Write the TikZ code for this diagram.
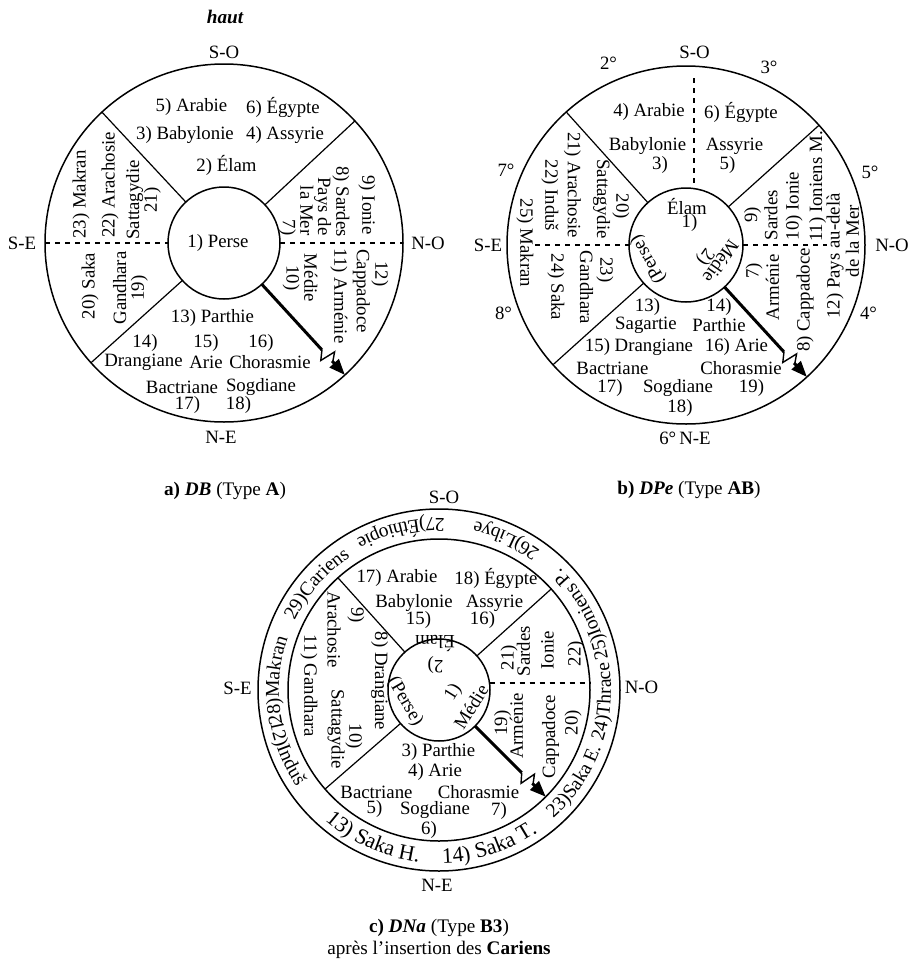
\documentclass[tikz,border=0pt]{standalone}
\usepackage{fontspec}
\setmainfont{Liberation Serif}
\usetikzlibrary{arrows.meta,decorations.text}
\newcommand{\bandfont}{\fontsize{9.8}{10}\selectfont}
\newcommand{\bigband}{\fontsize{11}{12}\selectfont}
% arrow with the lightning break: angle, inner radius, outer radius
\newcommand{\boltarrow}[3]{%
  \begin{scope}[rotate=#1]
    \draw[bolt] (#2,0) -- (#3-34,0);
    \draw[line width=0.7pt] (#3-34,0) -- (#3-27,-8) -- (#3-24,8) -- (#3-18,0);
    \draw[bolt,-{Triangle[length=8pt,width=6pt]}] (#3-19,0) -- (#3,0);
  \end{scope}}

\begin{document}
\begin{tikzpicture}[x=0.5pt, y=0.5pt,
  lbl/.style={inner sep=0pt, font=\fontsize{9.4}{8.8}\selectfont},
  up/.style={lbl, rotate=90},
  dn/.style={lbl, rotate=-90},
  ring/.style={line width=0.75pt},
  spoke/.style={line width=0.6pt},
  dashln/.style={line width=0.55pt, dash pattern=on 2.6pt off 2.4pt},
  bolt/.style={line width=1.5pt},
  capt/.style={inner sep=0pt, font=\fontsize{9.6}{11}\selectfont},
  band/.style={decorate, decoration={text along path, text align=center, text={#1}}}
]
\useasboundingbox (0,0) rectangle (911,-959);

%% a) DB
\begin{scope}[shift={(224,-243)}]
\draw[ring] (0,0) circle[radius=179];
\draw[ring] (0,0) circle[radius=56];
\foreach \ang in {43,133,222} \draw[spoke] (\ang:56) -- (\ang:179);
\draw[dashln] (-179,0) -- (-56,0);
\draw[dashln] (56,0) -- (179,0);
\boltarrow{-47.5}{56}{179}
\node[lbl, font=\fontsize{9.6}{11}\selectfont\bfseries\itshape] (haut) at (1,226) {haut};
\node[lbl] (aSO) at (0,191) {S-O};
\node[lbl] (aNE) at (-3,-194) {N-E};
\node[lbl] (aSE) at (-202,0) {S-E};
\node[lbl] (aNO) at (204,0) {N-O};
\node[lbl] (a1) at (-6,0) {1) Perse};
\node[lbl] (a2) at (2.5,78) {2) Élam};
\node[lbl] (a3) at (-39,108) {3) Babylonie};
\node[lbl] (a4) at (61,108) {4) Assyrie};
\node[lbl] (a5) at (-32.5,136) {5) Arabie};
\node[lbl] (a6) at (59,136) {6) Égypte};
\node[dn, align=right] (a7) at (81,36.5) {Pays de\\la Mer\\7)};
\node[dn] (a8) at (117,41.5) {8) Sardes};
\node[dn] (a9) at (143,38) {9) Ionie};
\node[dn, align=center] (a10) at (76,-35) {Médie\\10)};
\node[dn] (a11) at (115,-53) {11) Arménie};
\node[dn] (a12n) at (156,-31) {12)};
\node[dn] (a12) at (137.5,-48) {Cappadoce};
\node[up] (a23) at (-143,48.5) {23) Makran};
\node[up] (a22) at (-114,58) {22) Arachosie};
\node[up, align=center] (a21) at (-80.5,43) {Sattagydie\\21)};
\node[up] (a20) at (-134,-43) {20) Saka};
\node[up, align=center] (a19) at (-93.5,-45) {Gandhara\\19)};
\node[lbl] (a13) at (-11.5,-75) {13) Parthie};
\node[lbl] (a14n) at (-79,-100) {14)};
\node[lbl] (a15n) at (-18,-100) {15)};
\node[lbl] (a16n) at (37,-100) {16)};
\node[lbl] (a14) at (-80.5,-119) {Drangiane};
\node[lbl] (a15) at (-18,-119) {Arie};
\node[lbl] (a16) at (46,-119) {Chorasmie};
\node[lbl] (a17) at (-42,-144) {Bactriane};
\node[lbl] (a18) at (37,-144) {Sogdiane};
\node[lbl] (a17n) at (-36.5,-162) {17)};
\node[lbl] (a18n) at (14.5,-162) {18)};
\node[capt] (capa) at (1,-248) {\textbf{a)} \textbf{\textit{DB}} (Type \textbf{A})};
\end{scope}

%% b) DPe
\begin{scope}[shift={(686,-245)}]
\draw[ring] (0,0) circle[radius=179];
\draw[ring] (0,0) circle[radius=57];
\foreach \ang in {42,132,222} \draw[spoke] (\ang:57) -- (\ang:179);
\draw[dashln] (8,167) -- (8,56.5);
\draw[dashln] (-151,0) -- (-57,0);
\draw[dashln] (57,0) -- (141,0);
\boltarrow{-47.5}{57}{179}
\node[lbl] (bSO) at (8.5,193) {S-O};
\node[lbl] (b2d) at (-77.5,182) {2°};
\node[lbl] (b3d) at (83,178) {3°};
\node[lbl] (b7d) at (-180,75) {7°};
\node[lbl] (b5d) at (184,73) {5°};
\node[lbl] (bSE) at (-198,0) {S-E};
\node[lbl] (bNO) at (206,0) {N-O};
\node[lbl] (b8d) at (-182.5,-68) {8°};
\node[lbl] (b4d) at (182.5,-68) {4°};
\node[lbl] (bNE) at (-1,-193) {6°\,N-E};
\node[lbl] (b4) at (-37,133) {4) Arabie};
\node[lbl] (b6) at (55,133) {6) Égypte};
\node[lbl] (b3) at (-38.5,99) {Babylonie};
\node[lbl] (b3n) at (-26,80) {3)};
\node[lbl] (b5) at (48.5,99) {Assyrie};
\node[lbl] (b5n) at (41.5,80) {5)};
\node[lbl] (b1) at (1,38) {Élam};
\node[lbl] (b1n) at (3.5,22) {1)};
\node[lbl, rotate=120] (bPerse) at (-37.5,-14) {(Perse)};
\node[lbl, rotate=-125] (b2) at (35,-16.5) {Médie};
\node[lbl, rotate=-125] (b2n) at (19,-12) {2)};
\node[dn] (b21) at (-113.5,60) {21) Arachosie};
\node[dn] (b22) at (-136,49.5) {22) Induš};
\node[dn] (b25) at (-161,2) {25) Makran};
\node[dn] (b20n) at (-65,38.5) {20)};
\node[dn] (b20) at (-84.5,46) {Sattagydie};
\node[dn] (b24) at (-130,-42) {24) Saka};
\node[dn] (b23n) at (-81,-25) {23)};
\node[dn] (b23) at (-99.5,-42.5) {Gandhara};
\node[up] (b9n) at (66.5,30) {9)};
\node[up] (b9) at (85,30) {Sardes};
\node[up] (b10) at (108,39) {10) Ionie};
\node[up] (b11) at (131.5,58.5) {11) Ioniens M.};
\node[up] (b12) at (149,-11) {12) Pays au-delà};
\node[up] (b12b) at (166.5,4) {de la Mer};
\node[up] (b7n) at (68,-26) {7)};
\node[up] (b7) at (86.5,-42.5) {Arménie};
\node[up] (b8) at (119,-55) {8) Cappadoce};
\node[lbl] (b13n) at (-38.5,-62) {13)};
\node[lbl] (b13) at (-40,-80) {Sagartie};
\node[lbl] (b14n) at (33,-62) {14)};
\node[lbl] (b14) at (33,-80) {Parthie};
\node[lbl] (b15) at (-47,-102) {15) Drangiane};
\node[lbl] (b16) at (50.5,-102) {16) Arie};
\node[lbl] (b17) at (-73.5,-123) {Bactriane};
\node[lbl] (b19) at (55,-123) {Chorasmie};
\node[lbl] (b17n) at (-76,-143) {17)};
\node[lbl] (b18) at (-8,-143) {Sogdiane};
\node[lbl] (b19n) at (65.5,-143) {19)};
\node[lbl] (b18n) at (-6,-163) {18)};
\node[capt] (capb) at (3,-245) {\textbf{b)} \textbf{\textit{DPe}} (Type \textbf{AB})};
\end{scope}

%% c) DNa
\begin{scope}[shift={(439,-690)}]
\draw[ring] (0,0) circle[radius=181];
\draw[ring] (0,0) circle[radius=151];
\draw[ring] (0,0) circle[radius=51];
\foreach \ang in {42,132,221} \draw[spoke] (\ang:51) -- (\ang:151);
\draw[dashln] (50.5,7) -- (150.8,7);
\boltarrow{-45}{51}{151}
\node[lbl] (cSO) at (5,193) {S-O};
\node[lbl] (cSE) at (-201.5,2) {S-E};
\node[lbl] (cNO) at (202.5,3) {N-O};
\node[lbl] (cNE) at (-2,-195) {N-E};
\node[lbl] (c17) at (-42,112) {17) Arabie};
\node[lbl] (c18) at (57,112) {18) Égypte};
\node[lbl] (c15) at (-25,87) {Babylonie};
\node[lbl] (c15n) at (-20.5,70) {15)};
\node[lbl] (c16) at (55.5,87) {Assyrie};
\node[lbl] (c16n) at (43.5,70) {16)};
\node[lbl, rotate=180] (c2) at (-4,47) {Élam};
\node[lbl, rotate=180] (c2n) at (-3.5,25) {2)};
\node[lbl, rotate=-60] (cPerse) at (-34,-11.5) {(Perse)};
\node[lbl, rotate=58] (c1n) at (14.5,-2.5) {1)};
\node[lbl, rotate=58] (c1) at (32,-16.5) {Médie};
\node[dn] (c9n) at (-83,75) {9)};
\node[dn] (c9) at (-105,60.5) {Arachosie};
\node[dn] (c8) at (-59.5,9) {8) Drangiane};
\node[dn] (c11) at (-130,4) {11) Gandhara};
\node[dn] (c10n) at (-85,-46.5) {10)};
\node[dn] (c10) at (-103,-39) {Sattagydie};
\node[up] (c21n) at (70,32.5) {21)};
\node[up] (c21) at (84.5,39) {Sardes};
\node[up] (c22) at (108.5,40) {Ionie};
\node[up] (c22n) at (137,36.5) {22)};
\node[up] (c19n) at (63.5,-33) {19)};
\node[up] (c19) at (77.5,-36) {Arménie};
\node[up] (c20) at (111.5,-46.5) {Cappadoce};
\node[up] (c20n) at (134,-32.5) {20)};
\node[lbl] (c3) at (-0.5,-62) {3) Parthie};
\node[lbl] (c4) at (-4,-82) {4) Arie};
\node[lbl] (c5) at (-62.5,-102) {Bactriane};
\node[lbl] (c7) at (39.5,-102) {Chorasmie};
\node[lbl] (c5n) at (-64.5,-119) {5)};
\node[lbl] (c6) at (-4,-120) {Sogdiane};
\node[lbl] (c7n) at (60,-121) {7)};
\node[lbl] (c6n) at (-10,-140) {6)};
% ring of added peoples
\path[band={|\bigband|13) Saka H.}] (220:173) arc[start angle=220, end angle=272, radius=173];
\path[band={|\bigband|14) Saka T.}] (262:173) arc[start angle=262, end angle=314, radius=173];
\path[band={|\bandfont|23)Saka E.}] (304:172) arc[start angle=304, end angle=348, radius=172];
\path[band={|\bandfont|24)Thrace}] (335:172) arc[start angle=335, end angle=377, radius=172];
\path[band={|\bandfont|25)Ioniens P.}] (6:172) arc[start angle=6, end angle=50, radius=172];
\path[band={|\bandfont|26)Libye}] (45:172) arc[start angle=45, end angle=87, radius=172];
\path[band={|\bandfont|27)Éthiopie}] (79:172) arc[start angle=79, end angle=128, radius=172];
\path[band={|\bandfont|12)Induš}] (183:172) arc[start angle=183, end angle=222, radius=172];
\path[band={|\bandfont|29)Cariens}] (160:160) arc[start angle=160, end angle=118, radius=160];
\path[band={|\bandfont|28)Makran}] (198:160) arc[start angle=198, end angle=155, radius=160];
\node[capt, align=center] (capc) at (0,-249) {\textbf{c)} \textbf{\textit{DNa}} (Type \textbf{B3})\\après l’insertion des \textbf{Cariens}};
\end{scope}
\end{tikzpicture}
\end{document}
